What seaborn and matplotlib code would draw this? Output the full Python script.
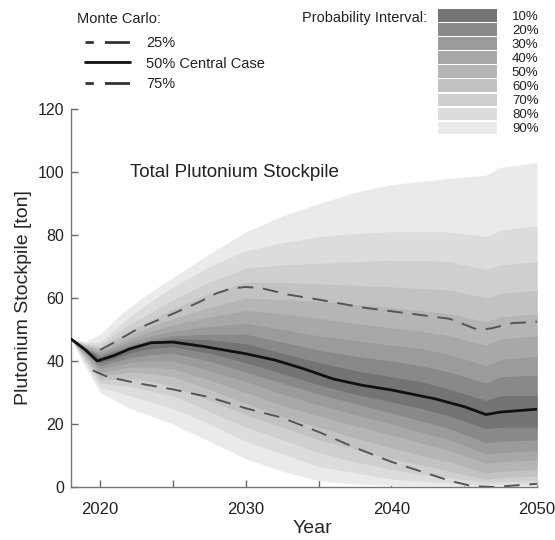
import numpy as np
import pandas as pd
import matplotlib
matplotlib.use("Agg")
import matplotlib.pyplot as plt
import seaborn as sns
from matplotlib.lines import Line2D
from matplotlib.patches import Patch
from matplotlib.ticker import MultipleLocator

# ---------------- data ----------------
years = [2018, 2019, 2020, 2021, 2022, 2023.5, 2025, 2027.5, 2030, 2032.5,
         2035, 2037.5, 2040, 2042, 2044, 2046.5, 2047.5, 2050]
q05 = [47, 38.0, 30.0, 27.5, 25.0, 22.5, 20.0, 14.5, 9.0, 5.0, 2.0, 1.0, 0.5, 0.4, 0.3, 0.2, 0.2, 0.3]
q10 = [47, 39.2, 31.5, 30.5, 29.0, 27.0, 25.0, 20.0, 14.5, 10.5, 6.5, 4.5, 2.5, 1.8, 1.3, 0.7, 0.8, 1.0]
q15 = [47, 40.0, 33.0, 32.5, 32.0, 30.5, 29.0, 24.0, 19.0, 15.0, 11.0, 8.0, 5.5, 4.0, 3.0, 1.5, 1.7, 2.0]
q20 = [47, 40.7, 34.2, 34.2, 34.5, 33.5, 32.0, 27.5, 23.0, 19.0, 15.0, 12.0, 9.0, 7.0, 5.0, 2.5, 3.0, 3.5]
q25 = [47, 41.3, 35.5, 35.8, 36.5, 36.0, 35.0, 31.0, 26.5, 22.5, 19.0, 15.5, 12.5, 10.0, 8.0, 4.5, 5.0, 5.5]
q30 = [47, 41.8, 36.5, 37.2, 38.0, 38.0, 37.5, 34.0, 30.0, 26.0, 22.5, 19.5, 16.5, 14.0, 11.5, 7.5, 8.0, 8.5]
q35 = [47, 42.3, 37.5, 38.5, 39.5, 40.0, 40.0, 37.0, 33.5, 29.5, 26.0, 23.0, 20.0, 17.5, 15.0, 10.5, 11.0, 11.5]
q40 = [47, 42.8, 38.5, 39.8, 41.0, 42.0, 42.5, 40.0, 36.5, 33.0, 29.5, 26.5, 23.5, 21.0, 18.5, 14.0, 14.5, 15.0]
q45 = [47, 43.2, 39.5, 40.8, 42.5, 44.0, 44.5, 42.5, 39.5, 36.0, 32.5, 29.5, 27.0, 25.0, 22.5, 18.5, 19.0, 19.0]
q55 = [47, 43.8, 41.2, 42.8, 44.3, 46.0, 47.0, 46.8, 45.5, 42.5, 39.5, 37.0, 35.0, 33.5, 31.0, 27.5, 29.0, 29.0]
q60 = [47, 44.0, 41.8, 43.5, 45.0, 46.8, 48.0, 48.5, 48.5, 46.0, 43.5, 41.5, 40.0, 38.5, 36.5, 33.0, 35.0, 35.5]
q65 = [47, 44.2, 42.4, 44.2, 46.0, 48.0, 49.5, 51.0, 52.0, 50.0, 48.0, 46.5, 45.0, 44.0, 42.0, 38.5, 40.5, 41.5]
q70 = [47, 44.5, 43.0, 45.0, 47.0, 49.5, 51.5, 54.0, 56.0, 55.0, 53.5, 52.0, 50.5, 49.5, 48.0, 45.0, 47.0, 48.0]
q75 = [47, 44.8, 43.6, 46.0, 48.0, 51.0, 53.5, 57.0, 60.0, 59.5, 59.0, 58.0, 57.0, 56.0, 55.0, 52.5, 54.0, 55.0]
q80 = [47, 45.1, 44.2, 47.0, 49.5, 53.0, 56.5, 61.5, 65.0, 65.0, 64.5, 64.0, 63.5, 63.0, 62.5, 60.0, 61.5, 62.5]
q85 = [47, 45.4, 45.0, 48.5, 51.5, 55.5, 59.5, 65.0, 69.5, 70.5, 71.0, 71.5, 72.0, 72.0, 71.5, 69.0, 70.5, 71.5]
q90 = [47, 45.7, 46.0, 50.0, 54.0, 59.0, 63.5, 70.0, 75.0, 77.5, 79.5, 80.5, 81.0, 81.0, 81.0, 79.5, 81.5, 83.0]
q95 = [47, 46.2, 48.5, 53.0, 57.0, 62.0, 66.5, 74.0, 81.0, 86.0, 90.0, 93.5, 96.0, 97.0, 98.0, 99.0, 101.5, 103.0]

interval_labels = ["10%", "20%", "30%", "40%", "50%", "60%", "70%", "80%", "90%"]
band_colors = ["#747474", "#898989", "#9b9b9b", "#a8a8a8", "#b5b5b5",
               "#c2c2c2", "#cfcfcf", "#dcdcdc", "#eaeaea"]
band_lower = [q45, q40, q35, q30, q25, q20, q15, q10, q05]
band_upper = [q55, q60, q65, q70, q75, q80, q85, q90, q95]

median_years = [2018, 2019, 2019.8, 2021, 2022, 2023.5, 2025, 2027, 2030, 2032,
                2034, 2036, 2038, 2040, 2043, 2045, 2046.5, 2047.5, 2050]
median_vals = [47, 43.5, 40.0, 41.8, 43.8, 45.8, 46.0, 44.7, 42.3, 40.3,
               37.5, 34.3, 32.3, 30.8, 28.0, 25.5, 23.0, 23.8, 24.7]

p75_years = [2020, 2021, 2022.7, 2025, 2026.8, 2028, 2029, 2030, 2031, 2033,
             2035, 2038, 2040.5, 2044, 2046, 2046.9, 2048.3, 2050]
p75_vals = [43.5, 46.0, 50.5, 55.0, 58.7, 61.5, 63.0, 63.5, 63.2, 61.0,
            59.5, 57.0, 55.5, 53.4, 49.8, 50.4, 52.0, 52.5]

p25_years = [2019.5, 2020.5, 2022.5, 2025, 2027.5, 2030, 2032.5, 2035, 2037.5,
             2040, 2042, 2044, 2045.5, 2047, 2050]
p25_vals = [37.0, 35.0, 33.0, 31.0, 28.5, 25.0, 22.0, 17.5, 12.5,
            8.0, 5.0, 2.0, 0.3, 0.0, 1.0]

mc_labels = ["25%", "50% Central Case", "75%"]

# ---------------- style ----------------
sns.set_style("ticks")
plt.rcParams["font.family"] = ["Liberation Sans", "DejaVu Sans"]
plt.rcParams["text.color"] = "#222222"

fig = plt.figure(figsize=(5.55, 5.4), dpi=100)
ax = fig.add_axes([71 / 555, 53 / 540, 466 / 555, 378 / 540])

# probability bands (widest first)
for lo, hi, col in reversed(list(zip(band_lower, band_upper, band_colors))):
    ax.fill_between(years, lo, hi, color=col, linewidth=0, zorder=1)

dash = (0, (8, 5))
df_med = pd.DataFrame({"year": median_years, "val": median_vals})
df_75 = pd.DataFrame({"year": p75_years, "val": p75_vals})
df_25 = pd.DataFrame({"year": p25_years, "val": p25_vals})
sns.lineplot(data=df_75, x="year", y="val", ax=ax, color="#555555", lw=1.4,
             linestyle=dash, zorder=3)
sns.lineplot(data=df_25, x="year", y="val", ax=ax, color="#555555", lw=1.4,
             linestyle=dash, zorder=3)
sns.lineplot(data=df_med, x="year", y="val", ax=ax, color="#111111", lw=2.0,
             zorder=4)

ax.set_xlim(2018, 2050)
ax.set_ylim(0, 120)
ax.xaxis.set_major_locator(MultipleLocator(10))
ax.xaxis.set_minor_locator(MultipleLocator(5))
ax.yaxis.set_major_locator(MultipleLocator(20))
ax.tick_params(axis="both", which="both", direction="in", length=5, width=1,
               color="#666666", labelcolor="#222222")
ax.tick_params(axis="x", labelsize=12, pad=11)
ax.tick_params(axis="y", labelsize=11.5, pad=5)
sns.despine(ax=ax)
for s in ["left", "bottom"]:
    ax.spines[s].set_color("#777777")
    ax.spines[s].set_linewidth(1.0)

ax.set_xlabel("Year", fontsize=14)
ax.set_ylabel("Plutonium Stockpile [ton]", fontsize=14)
ax.xaxis.set_label_coords((312 - 71) / 466, -0.088)
ax.yaxis.set_label_coords(-0.084, 0.5)

ax.text(2022.05, 100, "Total Plutonium Stockpile", fontsize=13.5,
        va="center", ha="left")

# Monte Carlo legend
fig.text(77 / 555, 1 - 19 / 540, "Monte Carlo:", fontsize=10.5,
         va="center", ha="left")
leg_dash = (6, (9, 4))
mc_handles = [Line2D([], [], color="#333333", lw=2, linestyle=leg_dash),
              Line2D([], [], color="#111111", lw=2),
              Line2D([], [], color="#333333", lw=2, linestyle=leg_dash)]
leg1 = fig.legend(mc_handles, mc_labels,
                  loc="upper left", bbox_to_anchor=(85 / 555, 1 - 36 / 540),
                  frameon=False, fontsize=10.5,
                  handlelength=3.1, handletextpad=1.1, labelspacing=0.45,
                  borderpad=0, borderaxespad=0)

# Probability interval legend
fig.text(302 / 555, 1 - 18 / 540, "Probability Interval:", fontsize=10.5,
         va="center", ha="left")
pi_handles = [Patch(facecolor=c, edgecolor="none") for c in band_colors]
leg2 = fig.legend(pi_handles, interval_labels, loc="upper left",
                  bbox_to_anchor=(438 / 555, 1 - 9 / 540), frameon=False,
                  fontsize=9.5, handlelength=4.5, handleheight=1.1,
                  labelspacing=0.02, handletextpad=1.1, borderpad=0,
                  borderaxespad=0)

fig.savefig("out.png", dpi=100)
